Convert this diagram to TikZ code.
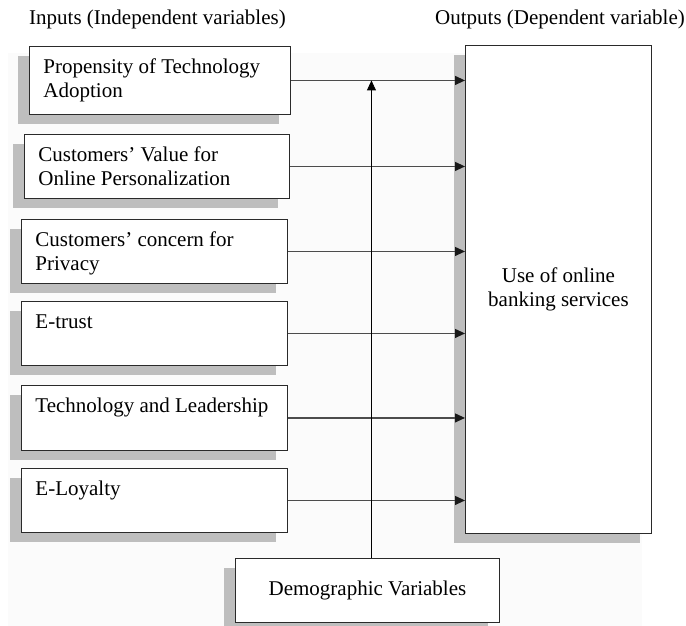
\documentclass[tikz,border=0pt]{standalone}
\usepackage{fontspec}
\setmainfont{Liberation Serif}
\usetikzlibrary{arrows.meta,shadows,calc}
\definecolor{shadowgray}{HTML}{BEBEBE}
\definecolor{bgfaint}{HTML}{FBFBFB}
\definecolor{linegray}{HTML}{2A2A2A}
\newcommand{\intext}[3]{\parbox[c][#2][t]{#1}{\raggedright\vspace*{10pt}\strut#3}}
\tikzset{
  every node/.style={font=\fontsize{21}{24}\selectfont},
  boxbase/.style={rectangle, draw=linegray, line width=0.9pt, fill=white, anchor=north west,
    drop shadow={shadow xshift=-11pt, shadow yshift=-10pt, fill=shadowgray, opacity=1}},
  inbox/.style={boxbase, inner xsep=14pt, inner ysep=0pt},
  centerbox/.style={boxbase, inner sep=0pt, align=center},
  heading/.style={inner sep=0pt},
  harrow/.style={draw=black!70, line width=1.1pt, -{Triangle[length=10pt,width=9pt,color=black!90]}},
  varrow/.style={draw=black, line width=0.9pt, -{Triangle[length=10pt,width=9pt]}}
}
\begin{document}
\begin{tikzpicture}[x=1pt,y=-1pt]
\useasboundingbox (0,0) rectangle (686,626);
\fill[bgfaint] (8,53) rectangle (642,626);

\node[heading, anchor=base west] (hin) at (29,25) {Inputs (Independent variables)};
\node[heading, anchor=base east] (hout) at (685,25) {Outputs (Dependent variable)};

\node[inbox] (b1) at (29,46) {\intext{233pt}{68pt}{Propensity of Technology\\Adoption}};
\node[inbox] (b2) at (24,134) {\intext{237pt}{64pt}{Customers’ Value for\\Online Personalization}};
\node[inbox] (b3) at (21,219) {\intext{238pt}{64pt}{Customers’ concern for\\Privacy}};
\node[inbox] (b4) at (21,301) {\intext{238pt}{64pt}{E-trust}};
\node[inbox] (b5) at (21,385) {\intext{238pt}{65pt}{Technology and Leadership}};
\node[inbox] (b6) at (21,468) {\intext{238pt}{64pt}{E-Loyalty}};

\node[centerbox, minimum width=186pt, minimum height=488pt] (out) at (465,45) {Use of online\\banking services};
\node[centerbox, minimum width=264pt, minimum height=64pt] (dem) at (235,558) {Demographic Variables};

\foreach \b in {b1,b2,b3,b4,b5,b6}
  \draw[harrow] (\b.east) -- (\b.east -| out.west);

\path (dem.north) ++(4,0) coordinate (vb);
\coordinate (vt) at (vb |- b1.east);
\draw[varrow] (vb) -- (vt);
\end{tikzpicture}
\end{document}
